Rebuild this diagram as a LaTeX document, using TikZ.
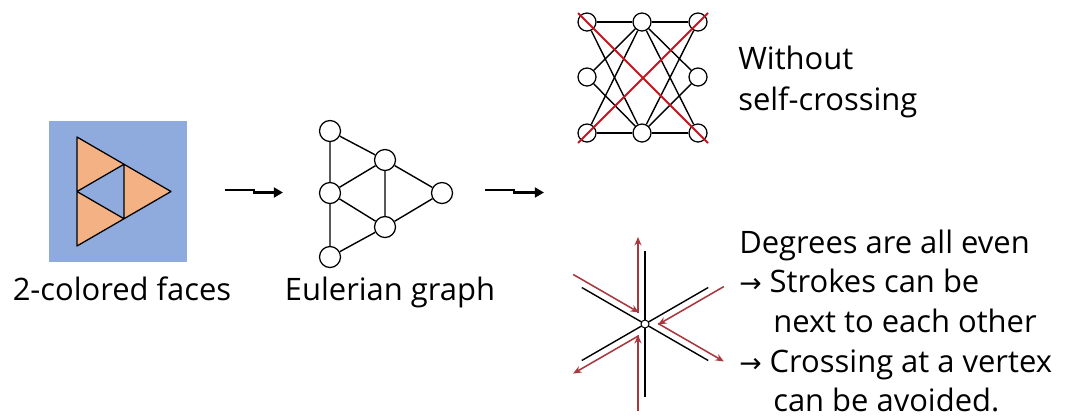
\documentclass[tikz,border=0pt]{standalone}
\usepackage{fontspec}
\setmainfont{Open Sans}
\newfontfamily\arrowfont{DejaVu Sans}
\usepackage{xcolor}
\usetikzlibrary{arrows.meta, positioning, calc}

\definecolor{faceblue}{RGB}{143,170,220}
\definecolor{faceorange}{RGB}{244,177,131}
\definecolor{crossred}{RGB}{200,20,30}
\definecolor{strokered}{RGB}{168,56,64}

\begin{document}
\begin{tikzpicture}[
    x=0.025cm, y=-0.025cm,
    vtx/.style={circle, draw, fill=white, line width=0.9pt, minimum size=0.525cm, inner sep=0pt},
    kvtx/.style={vtx, minimum size=0.45cm},
    edge/.style={line width=1pt},
    flow/.style={-{Triangle[length=6.5pt, width=7pt]}, line width=1.6pt},
    strk/.style={-{Stealth[length=6pt, width=5pt]}, strokered, line width=1.1pt},
    lbl/.style={font=\fontsize{22}{26}\selectfont, inner sep=0pt}
]
    \useasboundingbox (0,0) rectangle (1071,417);

    % 2-colored faces
    \fill[faceblue] (49,121) rectangle (187,262);
    \coordinate (fa) at (77,137);
    \coordinate (fb) at (77,246);
    \coordinate (fc) at (171,191.5);
    \coordinate (fab) at ($(fa)!0.5!(fb)$);
    \coordinate (fac) at ($(fa)!0.5!(fc)$);
    \coordinate (fbc) at ($(fb)!0.5!(fc)$);
    \fill[faceorange] (fa) -- (fb) -- (fc) -- cycle;
    \fill[faceblue] (fab) -- (fac) -- (fbc) -- cycle;
    \draw[line width=0.9pt, line join=round] (fa) -- (fb) -- (fc) -- cycle (fab) -- (fac) -- (fbc) -- cycle;
    \node[lbl, anchor=base] (tfaces) at (122,300) {2-colored faces};

    % Eulerian graph
    \node[vtx] (g1) at (330,131) {};
    \node[vtx] (g2) at (330,193) {};
    \node[vtx] (g3) at (330,257) {};
    \node[vtx] (g4) at (385,160) {};
    \node[vtx] (g5) at (385,227) {};
    \node[vtx] (g6) at (442,193) {};
    \draw[edge] (g1) -- (g2) (g2) -- (g3) (g1) -- (g4) (g2) -- (g4) (g2) -- (g5)
                (g4) -- (g5) (g4) -- (g6) (g5) -- (g6) (g3) -- (g5);
    \node[lbl, anchor=base] (tgraph) at (390,300) {Eulerian graph};

    % arrows between stages
    \coordinate (a1s) at (225,190);
    \coordinate (a1e) at (283,192.5);
    \coordinate (a2s) at (485,190);
    \coordinate (a2e) at (544,192.5);
    \draw[flow] (a1s) -- ++(29,0) |- (a1e);
    \draw[flow] (a2s) -- ++(29,0) |- (a2e);

    % graph drawn with self-crossing
    \node[kvtx] (tl) at (587,22) {};
    \node[kvtx] (tm) at (642,22) {};
    \node[kvtx] (tr) at (698,22) {};
    \node[kvtx] (ml) at (587,77) {};
    \node[kvtx] (mr) at (698,77) {};
    \node[kvtx] (bl) at (587,133) {};
    \node[kvtx] (bm) at (642,133) {};
    \node[kvtx] (br) at (698,133) {};
    \draw[edge] (tl) -- (tm) -- (tr) (bl) -- (bm) -- (br);
    \foreach \v in {ml, bl, mr, br} \draw[edge] (tm) -- (\v);
    \foreach \v in {ml, tl, mr, tr} \draw[edge] (bm) -- (\v);
    \coordinate (x1) at (578,13);
    \coordinate (x2) at (708,143);
    \coordinate (x3) at (708,13);
    \coordinate (x4) at (578,143);
    \draw[crossred, line width=1.4pt] (x1) -- (x2) (x3) -- (x4);
    \node[lbl, anchor=base west] (tno1) at (738,69) {Without};
    \node[lbl, anchor=base west] (tno2) at (738,110) {self-crossing};

    % strokes at an even vertex
    \coordinate (c) at (645,324);
    \foreach \a in {90,150,210}
        \draw[line width=1pt] ($(c)+(\a:73)$) -- ($(c)+(\a+180:73)$);
    \foreach \a in {90,210,330} {
        \draw[strk] ($(c)+(\a:87)+(\a+90:7)$) -- ($(c)+(\a:11)+(\a+90:7)$);
        \draw[strk] ($(c)+(\a+60:11)+(\a-30:7)$) -- ($(c)+(\a+60:87)+(\a-30:7)$);
    }
    \node[circle, draw, fill=white, line width=0.7pt, minimum size=0.2cm, inner sep=0pt] (cv) at (c) {};

    \node[lbl, anchor=base west] (td1) at (739,253) {Degrees are all even};
    \node[lbl, anchor=base west] (td2) at (739,292) {{\arrowfont\fontsize{19}{22}\selectfont→} Strokes can be};
    \node[lbl, anchor=base west] (td3) at (773,332) {next to each other};
    \node[lbl, anchor=base west] (td4) at (739,372) {{\arrowfont\fontsize{19}{22}\selectfont→} Crossing at a vertex};
    \node[lbl, anchor=base west] (td5) at (773,411) {can be avoided.};
\end{tikzpicture}
\end{document}
